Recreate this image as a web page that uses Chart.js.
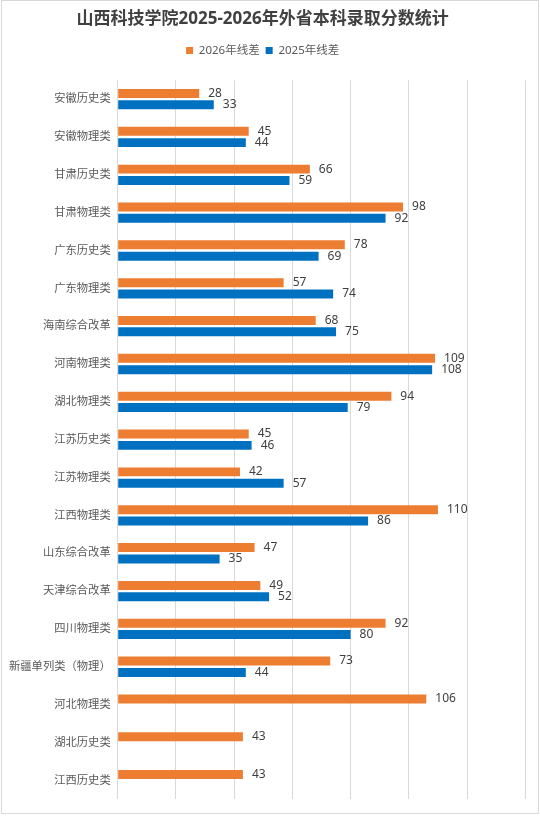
<!DOCTYPE html>
<html>
<head>
<meta charset="utf-8">
<script src="https://cdn.jsdelivr.net/npm/chart.js@4.4.1/dist/chart.umd.min.js"></script>
<style>
  html, body { margin: 0; padding: 0; background: #fff; }
  #wrap { position: relative; width: 540px; height: 821px; }
  #frame { position: absolute; left: 1px; top: 0px; width: 538px; height: 814px; box-sizing: border-box; border: 1px solid #d9d9d9; }
  #cv { position: absolute; left: 0; top: 0; }
</style>
</head>
<body>
<div id="wrap">
  <div id="frame"></div>
  <canvas id="cv" width="540" height="821"></canvas>
</div>
<script>
const categories = ['安徽历史类','安徽物理类','甘肃历史类','甘肃物理类','广东历史类','广东物理类','海南综合改革','河南物理类','湖北物理类','江苏历史类','江苏物理类','江西物理类','山东综合改革','天津综合改革','四川物理类','新疆单列类（物理）','河北物理类','湖北历史类','江西历史类'];
const diff2026 = [28,45,66,98,78,57,68,109,94,45,42,110,47,49,92,73,106,43,43];
const diff2025 = [33,44,59,92,69,74,75,108,79,46,57,86,35,52,80,44,null,null,null];
const seriesNames = ['2026年线差','2025年线差'];
const FONT = "'Noto Sans', 'Noto Sans CJK SC', sans-serif";

const valueLabels = {
  id: 'valueLabels',
  afterDatasetsDraw(chart) {
    const ctx = chart.ctx;
    ctx.save();
    ctx.font = '12px ' + FONT;
    ctx.fillStyle = '#404040';
    ctx.textAlign = 'left';
    ctx.textBaseline = 'middle';
    chart.data.datasets.forEach((ds, i) => {
      const meta = chart.getDatasetMeta(i);
      meta.data.forEach((el, j) => {
        const v = ds.data[j];
        if (v === null || v === undefined) return;
        ctx.fillText(String(v), el.x + 9, el.y);
      });
    });
    ctx.restore();
  }
};

const legendMargin = {
  id: 'legendMargin',
  beforeInit(chart) {
    const fit = chart.legend.fit;
    chart.legend.fit = function () {
      fit.bind(chart.legend)();
      this.height += 14;
    };
  }
};

new Chart(document.getElementById('cv'), {
  type: 'bar',
  data: {
    labels: categories,
    datasets: [
      { label: seriesNames[0], data: diff2026, backgroundColor: '#ED7D31', categoryPercentage: 0.6, barPercentage: 0.79 },
      { label: seriesNames[1], data: diff2025, backgroundColor: '#0070C0', categoryPercentage: 0.6, barPercentage: 0.79 }
    ]
  },
  options: {
    indexAxis: 'y',
    responsive: false,
    animation: false,
    devicePixelRatio: 1,
    layout: { padding: { left: 0, right: 14.7, top: 0, bottom: 21.8 } },
    plugins: {
      title: {
        display: true,
        text: '山西科技学院2025-2026年外省本科录取分数统计',
        color: '#404040',
        font: { family: FONT, size: 17, weight: 'bold' },
        padding: { top: 8.8, bottom: 9.5 }
      },
      legend: {
        display: true,
        labels: {
          boxWidth: 7, boxHeight: 7, padding: 6,
          color: '#595959',
          font: { family: FONT, size: 11.5 }
        }
      },
      tooltip: { enabled: false }
    },
    scales: {
      x: {
        min: 0, max: 140,
        ticks: { display: false, stepSize: 20 },
        grid: { color: '#d9d9d9', drawTicks: false, lineWidth: 1 },
        border: { display: false }
      },
      y: {
        grid: { display: false, drawTicks: false },
        border: { display: false },
        ticks: { color: '#595959', padding: 7, font: { family: FONT, size: 11.3 } },
        afterFit(scale) { scale.width = 117.7; }
      }
    }
  },
  plugins: [valueLabels, legendMargin]
});
</script>
</body>
</html>
